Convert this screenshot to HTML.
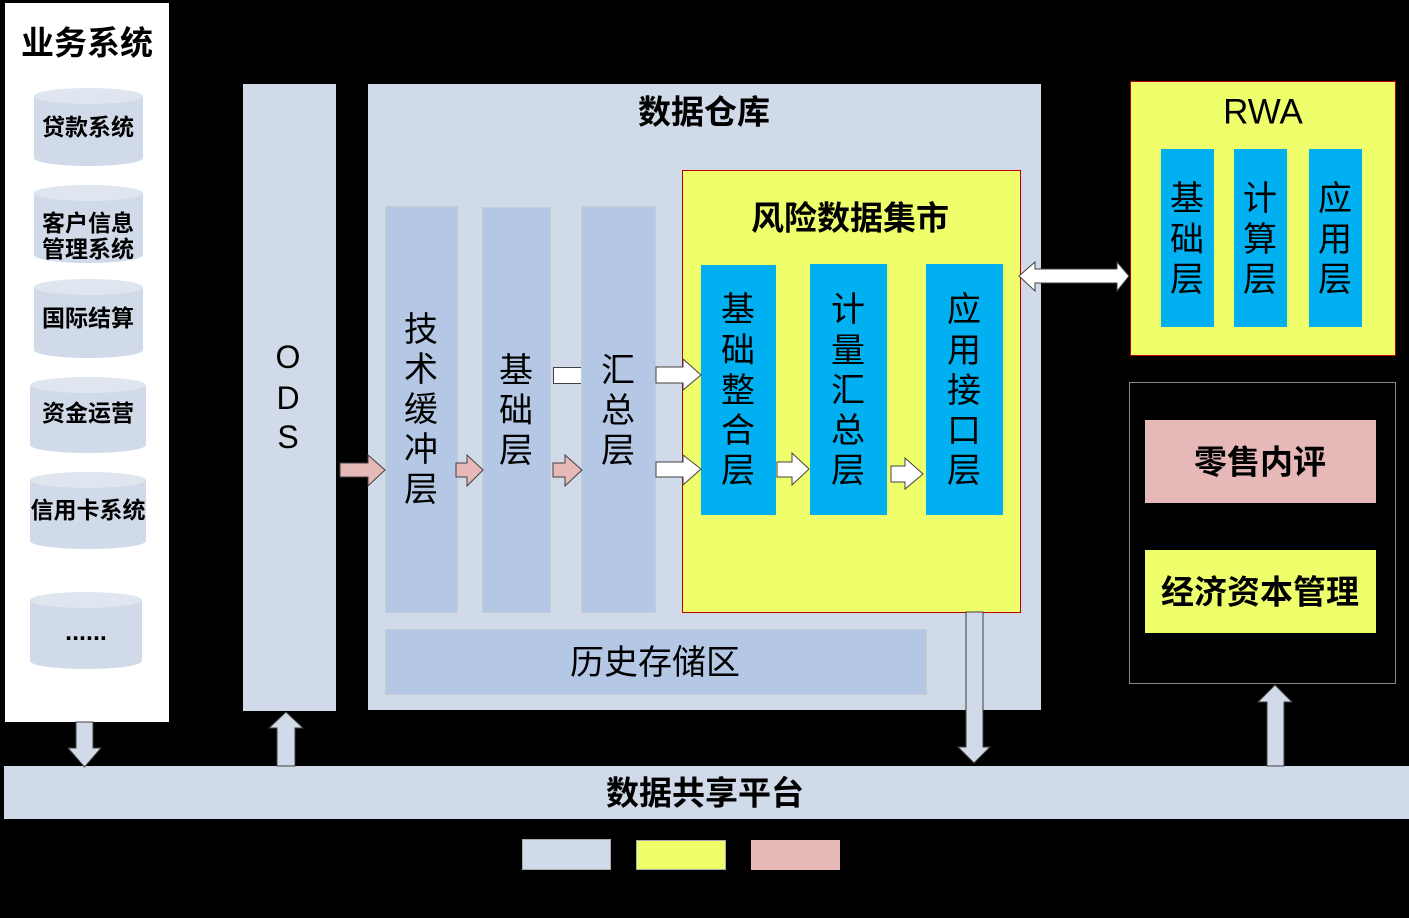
<!DOCTYPE html>
<html>
<head>
<meta charset="utf-8">
<style>
html,body{margin:0;padding:0;background:#000;}
svg{display:block;}
text{font-family:"Liberation Sans","Noto Sans CJK SC",sans-serif;fill:#000;}
.b{font-weight:700;}
</style>
</head>
<body>
<svg width="1409" height="918" viewBox="0 0 1409 918" xmlns="http://www.w3.org/2000/svg">
<rect x="0" y="0" width="1409" height="918" fill="#000"/>

<!-- Business systems -->
<rect x="5" y="3" width="164" height="719" fill="#fff"/>
<text x="87" y="43" class="b" font-size="33" text-anchor="middle" dominant-baseline="central">业务系统</text>

<!-- cylinders -->
<g fill="#d0dae8">
  <rect x="34" y="96" width="109" height="62"/><ellipse cx="88.5" cy="158" rx="54.5" ry="8"/>
  <rect x="34" y="193" width="109" height="62"/><ellipse cx="88.5" cy="255" rx="54.5" ry="8"/>
  <rect x="34" y="287" width="109" height="63"/><ellipse cx="88.5" cy="350" rx="54.5" ry="8"/>
  <rect x="30" y="385" width="116" height="60"/><ellipse cx="88" cy="445" rx="58" ry="8"/>
  <rect x="30" y="480" width="116" height="61"/><ellipse cx="88" cy="541" rx="58" ry="8"/>
  <rect x="30" y="600" width="112" height="61"/><ellipse cx="86" cy="661" rx="56" ry="8"/>
</g>
<g fill="#dfe6f0">
  <ellipse cx="88.5" cy="96" rx="54.5" ry="8"/>
  <ellipse cx="88.5" cy="193" rx="54.5" ry="8"/>
  <ellipse cx="88.5" cy="287" rx="54.5" ry="8"/>
  <ellipse cx="88" cy="385" rx="58" ry="8"/>
  <ellipse cx="88" cy="480" rx="58" ry="8"/>
  <ellipse cx="86" cy="600" rx="56" ry="8"/>
</g>
<g class="b" font-size="23" text-anchor="middle" dominant-baseline="central">
  <text x="88" y="127">贷款系统</text>
  <text x="88" y="223">客户信息</text>
  <text x="88" y="249">管理系统</text>
  <text x="88" y="318">国际结算</text>
  <text x="88" y="413">资金运营</text>
  <text x="88" y="510">信用卡系统</text>
  <text x="86" y="632" font-size="25">......</text>
</g>

<!-- ODS -->
<rect x="243" y="84" width="93" height="627" fill="#d0dae8"/>
<g font-size="32" text-anchor="middle" dominant-baseline="central">
  <text x="288" y="357">O</text>
  <text x="288" y="398">D</text>
  <text x="288" y="437">S</text>
</g>

<!-- Data warehouse -->
<rect x="368" y="84" width="673" height="626" fill="#d0dae8"/>
<text x="704" y="112" class="b" font-size="33" text-anchor="middle" dominant-baseline="central">数据仓库</text>

<!-- white bar behind 汇总层 -->
<rect x="553.5" y="367.5" width="40" height="16" fill="#fff" stroke="#404040" stroke-width="1"/>

<g fill="#b4c8e6" stroke="#c4ccd6" stroke-width="1">
  <rect x="385.5" y="206.5" width="72" height="406"/>
  <rect x="482.5" y="207.5" width="68" height="405"/>
  <rect x="581.5" y="206.5" width="74" height="406"/>
  <rect x="385.5" y="629.5" width="541" height="65"/>
</g>
<g font-size="34" text-anchor="middle" dominant-baseline="central">
  <text x="421" y="330">技</text><text x="421" y="370">术</text><text x="421" y="410">缓</text><text x="421" y="450">冲</text><text x="421" y="490">层</text>
  <text x="516" y="371">基</text><text x="516" y="411">础</text><text x="516" y="451">层</text>
  <text x="618" y="371">汇</text><text x="618" y="411">总</text><text x="618" y="451">层</text>
  <text x="655" y="663">历史存储区</text>
</g>

<!-- Risk data mart -->
<rect x="682.5" y="170.5" width="338" height="442" fill="#efff6b" stroke="#c00000" stroke-width="1"/>
<text x="850" y="218" class="b" font-size="33" text-anchor="middle" dominant-baseline="central">风险数据集市</text>
<g fill="#00b0f0">
  <rect x="701" y="265" width="75" height="250"/>
  <rect x="810" y="264" width="77" height="251"/>
  <rect x="926" y="264" width="77" height="251"/>
</g>
<g font-size="34" text-anchor="middle" dominant-baseline="central">
  <text x="738" y="310">基</text><text x="738" y="351">础</text><text x="738" y="391">整</text><text x="738" y="431">合</text><text x="738" y="471">层</text>
  <text x="848" y="310">计</text><text x="848" y="351">量</text><text x="848" y="391">汇</text><text x="848" y="431">总</text><text x="848" y="471">层</text>
  <text x="964" y="310">应</text><text x="964" y="351">用</text><text x="964" y="391">接</text><text x="964" y="431">口</text><text x="964" y="471">层</text>
</g>

<!-- pink arrows -->
<g fill="#e6b8b7" stroke="#404040" stroke-width="1">
  <polygon points="340,463 368,463 368,455 385,470 368,486 368,477 340,477"/>
  <polygon points="456,463 467,463 467,455 483,470 467,486 467,477 456,477"/>
  <polygon points="553,463 565,463 565,455 582,470 565,486 565,477 553,477"/>
</g>

<!-- white arrows -->
<g fill="#fff" stroke="#404040" stroke-width="1">
  <polygon points="656,367 683,367 683,359 701,375 683,390 683,383 656,383"/>
  <polygon points="656,462 683,462 683,455 701,469 683,485 683,477 656,477"/>
  <polygon points="777,462 792,462 792,453 809,469 792,485 792,477 777,477"/>
  <polygon points="891,466 905,466 905,458 923,474 905,489 905,482 891,482"/>
  <polygon points="1019,276 1035,262 1035,269 1117,269 1117,262 1129,276 1117,291 1117,283 1035,283 1035,291"/>
</g>

<!-- RWA -->
<rect x="1130.5" y="81.5" width="265" height="274" fill="#efff6b" stroke="#c00000" stroke-width="1"/>
<text x="1263" y="112" font-size="35" text-anchor="middle" dominant-baseline="central">RWA</text>
<g fill="#00b0f0">
  <rect x="1161" y="149" width="53" height="178"/>
  <rect x="1234" y="149" width="53" height="178"/>
  <rect x="1309" y="149" width="53" height="178"/>
</g>
<g font-size="34" text-anchor="middle" dominant-baseline="central">
  <text x="1187" y="199">基</text><text x="1187" y="240">础</text><text x="1187" y="280">层</text>
  <text x="1260" y="199">计</text><text x="1260" y="240">算</text><text x="1260" y="280">层</text>
  <text x="1335" y="199">应</text><text x="1335" y="240">用</text><text x="1335" y="280">层</text>
</g>

<!-- right box -->
<rect x="1129.5" y="382.5" width="266" height="301" fill="#000" stroke="#888" stroke-width="1"/>
<rect x="1145" y="420" width="231" height="83" fill="#e6b8b7"/>
<rect x="1145" y="550" width="231" height="83" fill="#efff6b"/>
<text x="1260" y="462" class="b" font-size="33" text-anchor="middle" dominant-baseline="central">零售内评</text>
<text x="1260" y="592" class="b" font-size="33" text-anchor="middle" dominant-baseline="central">经济资本管理</text>

<!-- data sharing platform -->
<rect x="4" y="766" width="1405" height="53" fill="#d0dae8"/>
<text x="705" y="793" class="b" font-size="33" text-anchor="middle" dominant-baseline="central">数据共享平台</text>

<!-- vertical arrows -->
<g fill="#d0dae8" stroke="#404040" stroke-width="1">
  <polygon points="76,722 93,722 93,748 101,748 84.5,767 68,748 76,748"/>
  <polygon points="966,612 983,612 983,747 990,747 974,763 958,747 966,747"/>
  <polygon points="286,712 303,728 295,728 295,766 277,766 277,728 269,728"/>
  <polygon points="1275,685 1292,702 1284,702 1284,766 1267,766 1267,702 1258,702"/>
</g>

<!-- legend -->
<rect x="522.5" y="839.5" width="88" height="30" fill="#d0dae8" stroke="#aaa" stroke-width="1"/>
<rect x="636.5" y="840.5" width="89" height="29" fill="#efff6b" stroke="#aaa" stroke-width="1"/>
<rect x="751" y="840" width="89" height="30" fill="#e6b8b7"/>
</svg>
</body>
</html>
